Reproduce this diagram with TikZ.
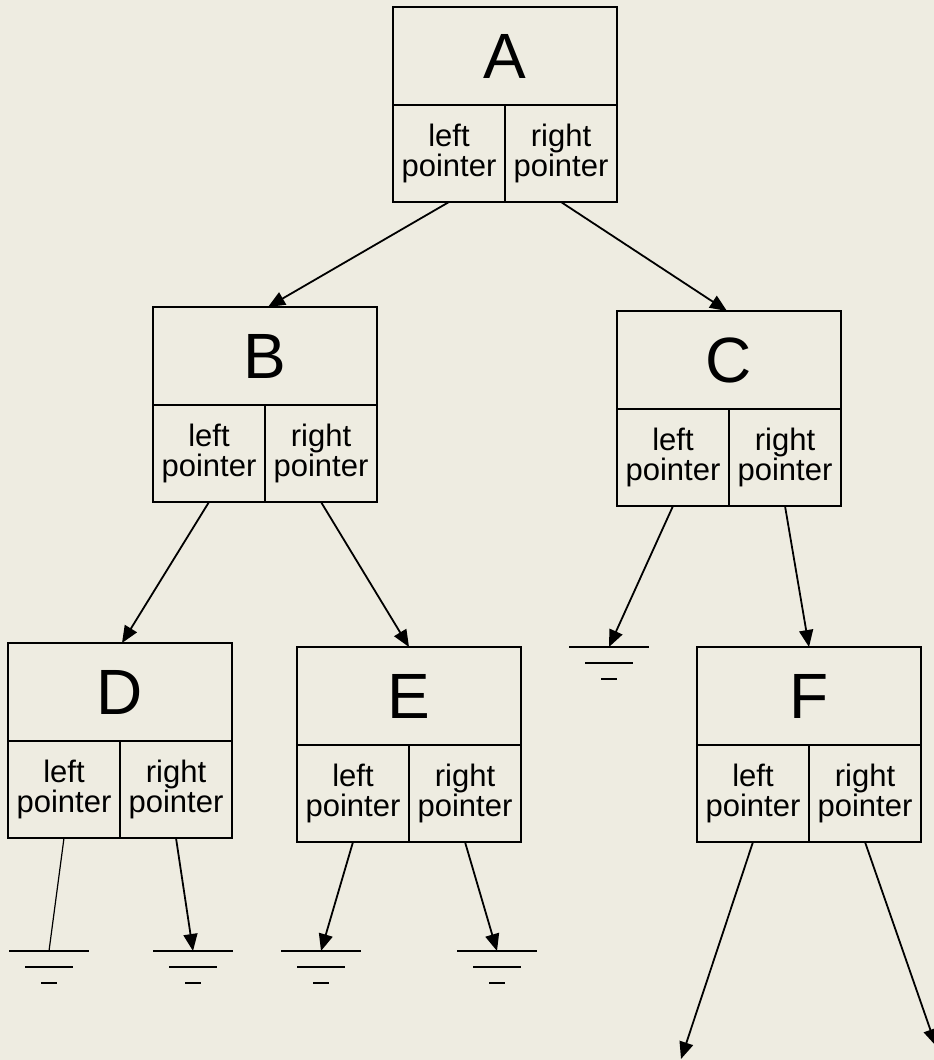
\documentclass[tikz,border=0pt]{standalone}
\usepackage{fontspec}
\setmainfont{Liberation Sans}
\usetikzlibrary{arrows.meta}
\definecolor{bgbeige}{HTML}{EEECE1}
\tikzset{
  topcell/.style={draw=black, line width=1.6pt, minimum width=224pt, minimum height=98pt, inner sep=0pt, outer sep=0pt, font=\fontsize{64}{70}\selectfont},
  halfcell/.style={draw=black, line width=1.6pt, minimum width=112pt, minimum height=97pt, inner sep=0pt, outer sep=0pt, align=center, font=\fontsize{31}{30}\selectfont},
  ptr/.style={line width=1.8pt, -{Triangle[length=17pt,width=14pt]}},
  nullptr/.style={line width=1.2pt},
  gnd/.style={line width=1.8pt}
}
\newcommand{\tbox}[4]{%
  \node[topcell, anchor=north west] (#1) at (#2,#3) {#4};
  \node[halfcell, anchor=north west] (#1l) at (#2,#3+98) {left\\pointer};
  \node[halfcell, anchor=north west] (#1r) at (#2+112,#3+98) {right\\pointer};
}
\newcommand{\gsym}[3]{%
  \coordinate (#1) at (#2,#3);
  \draw[gnd] ([shift={(-40,0)}]#1) -- ([shift={(40,0)}]#1);
  \draw[gnd] ([shift={(-24,16)}]#1) -- ([shift={(24,16)}]#1);
  \draw[gnd] ([shift={(-8,32)}]#1) -- ([shift={(8,32)}]#1);
}
\begin{document}
\begin{tikzpicture}[x=1pt, y=-1pt]
\fill[bgbeige] (0,0) rectangle (934,1060);
\useasboundingbox (0,0) rectangle (934,1060);
\clip (0,0) rectangle (934,1060);
\tbox{A}{393}{7}{A}
\tbox{B}{153}{307}{B}
\tbox{C}{617}{311}{C}
\tbox{D}{8}{643}{D}
\tbox{E}{297}{647}{E}
\tbox{F}{697}{647}{F}
\gsym{gC}{609}{647}
\gsym{gDl}{49}{951}
\gsym{gDr}{193}{951}
\gsym{gEl}{321}{951}
\gsym{gEr}{497}{951}
\coordinate (fFl) at (681,1059);
\coordinate (fFr) at (936,1046);
\draw[ptr] (Al.south) -- ([xshift=3pt]B.north);
\draw[ptr] (Ar.south) -- ([xshift=-2pt]C.north);
\draw[ptr] (Bl.south) -- ([xshift=2pt]D.north);
\draw[ptr] (Br.south) -- (E.north);
\draw[ptr] (Cl.south) -- (gC);
\draw[ptr] (Cr.south) -- (F.north);
\draw[nullptr] (Dl.south) -- (gDl);
\draw[ptr] (Dr.south) -- (gDr);
\draw[ptr] (El.south) -- (gEl);
\draw[ptr] (Er.south) -- (gEr);
\draw[ptr] (Fl.south) -- (fFl);
\draw[ptr] (Fr.south) -- (fFr);
\end{tikzpicture}
\end{document}
